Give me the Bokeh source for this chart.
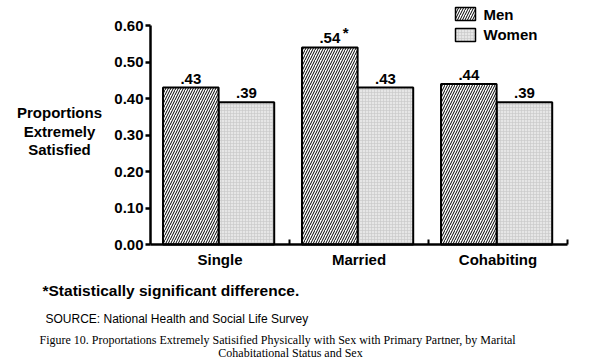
from bokeh.plotting import figure
from bokeh.models import (ColumnDataSource, FixedTicker, Range1d, Label,
                          PrintfTickFormatter, LinearAxis)
from bokeh.core.properties import value
from bokeh.embed import file_html
from bokeh.resources import INLINE
import numpy as np

# ---------------- data ----------------
categories = ["Single", "Married", "Cohabiting"]
men = [0.43, 0.54, 0.44]
women = [0.39, 0.43, 0.39]
men_labels = [".43", ".54", ".44"]
women_labels = [".39", ".43", ".39"]
significant = [False, True, False]
series_names = ["Men", "Women"]
y_ticks = [0.0, 0.1, 0.2, 0.3, 0.4, 0.5, 0.6]
category_ticks = [0.5, 1.5, 2.5]
boundary_ticks = [1, 2, 3]
y_axis_title = ["Proportions", "Extremely", "Satisfied"]
footnote = "*Statistically significant difference."
source_note = "SOURCE:  National Health and Social Life Survey"
caption_1 = ("Figure 10. Proportations Extremely Satisified Physically with Sex "
             "with Primary Partner, by Marital")
caption_2 = "Cohabitational Status and Sex"

# ---------------- layout helpers ----------------
W, H = 594, 363
X0_PX, X3_PX = 150, 567        # px of x = 0 and x = 3
Y0_PX = 244                    # px of y = 0
PPU_Y = 365.0                  # px per 1.0 of y
PPU_X = (X3_PX - X0_PX) / 3.0


def dx(px):
    return (px - X0_PX) / PPU_X


def dy(py):
    return (Y0_PX - py) / PPU_Y


SANS = value("Liberation Sans")

p = figure(width=W, height=H, output_backend="svg", toolbar_location=None,
           x_range=Range1d(dx(0), dx(W)), y_range=Range1d(dy(H), dy(0)),
           x_axis_location=None, y_axis_location=None,
           min_border=0, min_border_left=0, min_border_right=0,
           min_border_top=0, min_border_bottom=0)
p.outline_line_color = None
p.xgrid.visible = False
p.ygrid.visible = False
p.background_fill_color = "white"
p.border_fill_color = "white"

# ---------------- bars ----------------
idx = np.arange(len(categories))
men_x = idx + 0.5 - 0.21
women_x = idx + 0.5 + 0.19
BW = 0.40

src = ColumnDataSource(dict(men_x=men_x, women_x=women_x, men=men, women=women,
                            men_labels=men_labels, women_labels=women_labels))

WOMEN_STYLE = dict(fill_color="#e6e6e6", hatch_pattern="+", hatch_color="#c6c6c6",
                   hatch_scale=3, hatch_weight=0.6)
MEN_STYLE = dict(fill_color="white", hatch_pattern="/", hatch_color="black",
                 hatch_scale=5, hatch_weight=1)

p.vbar(x="women_x", top="women", width=BW, bottom=0, source=src,
       line_color="black", line_width=2, **WOMEN_STYLE)
p.vbar(x="men_x", top="men", width=BW, bottom=0, source=src,
       line_color="black", line_width=2, **MEN_STYLE)

p.text(x="men_x", y="men", text="men_labels", source=src, text_font=SANS,
       text_font_style="bold", text_font_size="15px", text_align="center",
       text_baseline="bottom", y_offset=-4, text_color="black")
p.text(x="women_x", y="women", text="women_labels", source=src, text_font=SANS,
       text_font_style="bold", text_font_size="15px", text_align="center",
       text_baseline="bottom", y_offset=-4, text_color="black")

sig_x = [x for x, s in zip(men_x, significant) if s]
sig_y = [v for v, s in zip(men, significant) if s]
p.text(x=sig_x, y=sig_y, text=["*"] * len(sig_x), text_font=SANS,
       text_font_style="bold", text_font_size="15px", text_align="left",
       text_baseline="bottom", x_offset=13, y_offset=-6, text_color="black")

# ---------------- axes ----------------
ya = LinearAxis(fixed_location=0, bounds=(0, 0.6),
                ticker=FixedTicker(ticks=y_ticks),
                formatter=PrintfTickFormatter(format="%.2f"))
ya.axis_line_width = 2.5
ya.axis_line_color = "black"
ya.major_tick_line_width = 2.5
ya.major_tick_out = 5
ya.major_tick_in = 0
ya.minor_tick_line_color = None
ya.major_label_standoff = 2
ya.major_label_text_font = "Liberation Sans"
ya.major_label_text_font_style = "bold"
ya.major_label_text_font_size = "15px"
ya.major_label_text_color = "black"
p.add_layout(ya, "left")

# x axis: line + category names (ticks hidden)
xc = LinearAxis(fixed_location=0, bounds=(0, 3),
                ticker=FixedTicker(ticks=category_ticks),
                major_label_overrides=dict(zip(category_ticks, categories)))
xc.axis_line_width = 2.5
xc.axis_line_color = "black"
xc.major_tick_line_color = None
xc.major_tick_in = 0
xc.major_tick_out = 0
xc.minor_tick_line_color = None
xc.minor_tick_in = 0
xc.minor_tick_out = 0
xc.major_label_standoff = 6
xc.major_label_text_font = "Liberation Sans"
xc.major_label_text_font_style = "bold"
xc.major_label_text_font_size = "15px"
xc.major_label_text_color = "black"
p.add_layout(xc, "below")

# boundary tick marks between category groups (pointing up)
p.segment(x0=boundary_ticks, y0=[0] * len(boundary_ticks),
          x1=boundary_ticks, y1=[5 / PPU_Y] * len(boundary_ticks),
          line_color="black", line_width=2)

# ---------------- legend (drawn) ----------------
lx0, lx1 = dx(455), dx(475)
p.quad(left=[lx0], right=[lx1], bottom=[dy(20)], top=[dy(7)],
       line_color="black", line_width=1.5, **MEN_STYLE)
p.quad(left=[lx0], right=[lx1], bottom=[dy(41)], top=[dy(28)],
       line_color="black", line_width=1.5, **WOMEN_STYLE)
for name, py in zip(series_names, [14, 34]):
    p.add_layout(Label(x=dx(483), y=dy(py), text=name, text_font="Liberation Sans",
                       text_font_style="bold", text_font_size="15px",
                       text_baseline="middle", text_align="left",
                       text_color="black"))

# ---------------- y axis title ----------------
for line, py in zip(y_axis_title, [112, 131, 149]):
    p.add_layout(Label(x=dx(59), y=dy(py), text=line, text_font="Liberation Sans",
                       text_font_style="bold", text_font_size="15px",
                       text_align="center", text_baseline="middle",
                       text_color="black"))

# ---------------- notes ----------------
p.add_layout(Label(x=dx(42), y=dy(290), text=footnote, text_font="Liberation Sans",
                   text_font_style="bold", text_font_size="15.5px",
                   text_align="left", text_baseline="middle", text_color="black"))
p.add_layout(Label(x=dx(45), y=dy(318), text=source_note, text_font="Liberation Sans",
                   text_font_size="12px", text_align="left",
                   text_baseline="middle", text_color="black"))
p.add_layout(Label(x=dx(39), y=dy(339), text=caption_1, text_font="Liberation Serif",
                   text_font_size="12px", text_align="left",
                   text_baseline="middle", text_color="black"))
p.add_layout(Label(x=dx(290), y=dy(352), text=caption_2, text_font="Liberation Serif",
                   text_font_size="12px", text_align="center",
                   text_baseline="middle", text_color="black"))

open("out.html", "w").write(file_html(p, INLINE))
